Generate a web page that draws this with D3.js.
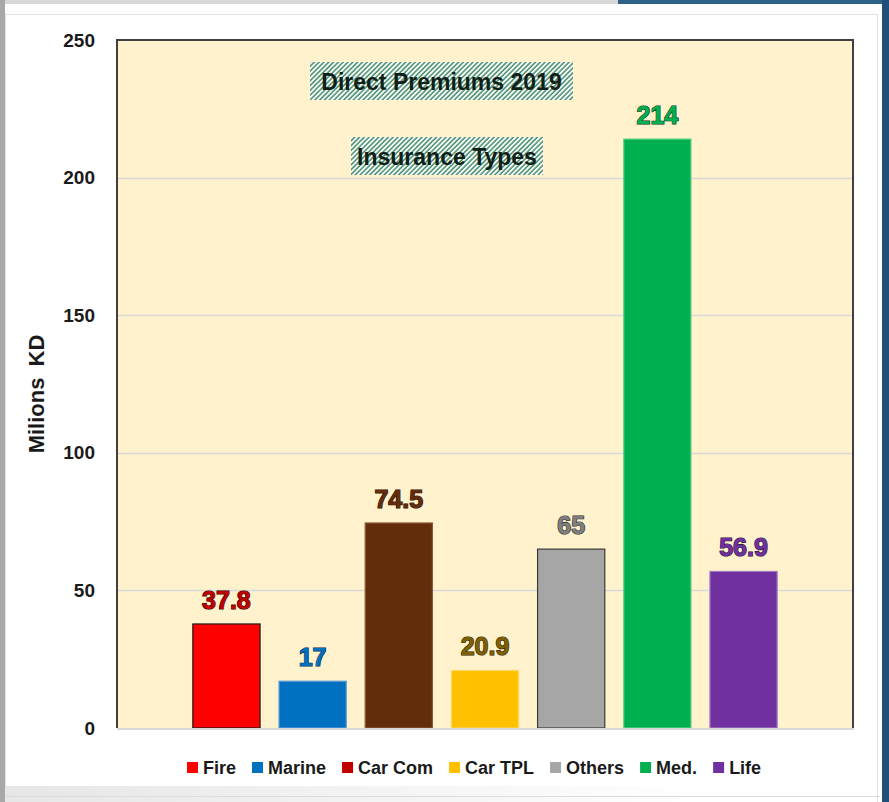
<!DOCTYPE html>
<html>
<head>
<meta charset="utf-8">
<script src="https://cdn.jsdelivr.net/npm/d3@7/dist/d3.min.js"></script>
<style>
    body { margin: 0; background: #fff; }
    svg text { font-family: "Liberation Sans", Arial, sans-serif; }
</style>
</head>
<body>
<div class="chart"></div>
<script>
// chart data
var categories = ["Fire", "Marine", "Car Com", "Car TPL", "Others", "Med.", "Life"];
var premiums = [37.8, 17, 74.5, 20.9, 65, 214, 56.9];
var valueLabels = ["37.8", "17", "74.5", "20.9", "65", "214", "56.9"];
var yTicks = [0, 50, 100, 150, 200, 250];
var titleLines = ["Direct Premiums 2019", "Insurance Types"];
var yTitle = "Milions KD";

var width = 889, height = 802;
var plot = { left: 117, right: 853, top: 40, bottom: 728 };

var barColors = ["#ff0000", "#0070c0", "#622d0b", "#ffc000", "#a6a6a6", "#00b050", "#7030a0"];
var barStrokes = ["#1a1a1a", "#5b9bd5", "#8a5a3a", "#ffd966", "#3a3a3a", "#5fd08a", "#a080c0"];
var legendColors = ["#ff0000", "#0070c0", "#c00000", "#ffc000", "#a6a6a6", "#00b050", "#7030a0"];
var labelFills = ["#c00000", "#0070c0", "#632c0a", "#7f6000", "#7f7f7f", "#00b050", "#7030a0"];
var labelStrokes = ["#2a0000", "#0b2a44", "#1a0a00", "#2a2000", "#2a2a2a", "#063018", "#1e0a30"];

var svg = d3.select("div.chart")
    .append("svg")
    .attr("width", width)
    .attr("height", height);

var defs = svg.append("defs");
var hatch = defs.append("pattern")
    .attr("id", "hatch")
    .attr("patternUnits", "userSpaceOnUse")
    .attr("width", 3.4)
    .attr("height", 3.4)
    .attr("patternTransform", "rotate(45)");
hatch.append("rect").attr("width", 3.4).attr("height", 3.4).attr("fill", "#ffffff");
hatch.append("line")
    .attr("x1", 1).attr("y1", 0).attr("x2", 1).attr("y2", 3.4)
    .attr("stroke", "#3f8a66").attr("stroke-width", 1.5);

var fade = defs.append("linearGradient").attr("id", "fade")
    .attr("x1", 0).attr("x2", 1).attr("y1", 0).attr("y2", 0);
fade.append("stop").attr("offset", "0%").attr("stop-color", "#e6e6e6");
fade.append("stop").attr("offset", "100%").attr("stop-color", "#ffffff");

// window frame around the chart
svg.append("rect").attr("x", 0).attr("y", 0).attr("width", width).attr("height", 4).attr("fill", "#d8d8d8");
svg.append("rect").attr("x", 618).attr("y", 0).attr("width", 271).attr("height", 4).attr("fill", "#2d6388");
svg.append("rect").attr("x", 0).attr("y", 0).attr("width", 5).attr("height", height).attr("fill", "#a8a8a8");
svg.append("rect").attr("x", 882).attr("y", 0).attr("width", 7).attr("height", height).attr("fill", "#1f4e79");
svg.append("rect").attr("x", 5.5).attr("y", 14.5).attr("width", 872).attr("height", 800)
    .attr("fill", "#ffffff").attr("stroke", "#e2e2e2");
svg.append("rect").attr("x", 5).attr("y", 786).attr("width", 700).attr("height", 16).attr("fill", "url(#fade)");
svg.append("line").attr("x1", 5).attr("x2", 880).attr("y1", 796.5).attr("y2", 796.5)
    .attr("stroke", "#dcdcdc");

var x = d3.scaleBand()
    .domain(categories)
    .range([plot.left, plot.right])
    .paddingInner(0.22)
    .paddingOuter(0.88);

var y = d3.scaleLinear()
    .domain([0, 250])
    .range([plot.bottom, plot.top]);

// plot background
svg.append("rect")
    .attr("x", plot.left).attr("y", plot.top)
    .attr("width", plot.right - plot.left).attr("height", plot.bottom - plot.top)
    .attr("fill", "#fff2cc");

// gridlines
svg.append("g").selectAll("line")
    .data(yTicks.filter(function (d) { return d > 0 && d < 250; }))
    .enter().append("line")
    .attr("x1", plot.left).attr("x2", plot.right)
    .attr("y1", function (d) { return Math.round(y(d)) + 0.5; })
    .attr("y2", function (d) { return Math.round(y(d)) + 0.5; })
    .attr("stroke", "#d9d9d9").attr("stroke-width", 1.3);

// y axis ticks
var yAxis = d3.axisLeft(y).tickValues(yTicks).tickSize(0).tickPadding(0);
var yg = svg.append("g")
    .attr("transform", "translate(95,0)")
    .call(yAxis);
yg.select(".domain").remove();
yg.selectAll("text")
    .attr("font-family", "Liberation Sans, Arial, sans-serif")
    .attr("font-size", 19)
    .attr("font-weight", "bold")
    .attr("fill", "#1a1a1a");

svg.append("text")
    .attr("transform", "translate(44," + ((plot.top + plot.bottom) / 2 + 10) + ") rotate(-90)")
    .attr("text-anchor", "middle")
    .attr("font-size", 22)
    .attr("font-weight", "bold")
    .attr("word-spacing", 5)
    .attr("fill", "#1a1a1a")
    .text(yTitle);

// bars
svg.append("g").selectAll("rect")
    .data(premiums)
    .enter().append("rect")
    .attr("x", function (d, i) { return x(categories[i]); })
    .attr("y", function (d) { return y(d); })
    .attr("width", x.bandwidth())
    .attr("height", function (d) { return y(0) - y(d); })
    .attr("fill", function (d, i) { return barColors[i]; })
    .attr("stroke", function (d, i) { return barStrokes[i]; })
    .attr("stroke-width", 1.2);

// value labels
svg.append("g").selectAll("text")
    .data(premiums)
    .enter().append("text")
    .attr("x", function (d, i) { return x(categories[i]) + x.bandwidth() / 2; })
    .attr("y", function (d) { return y(d) - 15; })
    .attr("text-anchor", "middle")
    .attr("font-size", 25)
    .attr("font-weight", "bold")
    .attr("fill", function (d, i) { return labelFills[i]; })
    .attr("stroke", function (d, i) { return labelStrokes[i]; })
    .attr("stroke-width", 1.2)
    .attr("paint-order", "stroke")
    .text(function (d, i) { return valueLabels[i]; });

// plot border: dark on left, top, right, light on the bottom
svg.append("path")
    .attr("d", "M" + plot.left + "," + plot.bottom + "V" + plot.top + "H" + plot.right + "V" + plot.bottom)
    .attr("fill", "none").attr("stroke", "#404040").attr("stroke-width", 2);
svg.append("line")
    .attr("x1", plot.left).attr("x2", plot.right + 1)
    .attr("y1", plot.bottom + 1).attr("y2", plot.bottom + 1)
    .attr("stroke", "#d9d9d9").attr("stroke-width", 2);

// hatched title boxes
var titleBoxes = [
    { x: 310, y: 62, w: 263, h: 38 },
    { x: 351, y: 137, w: 192, h: 38 }
];
titleBoxes.forEach(function (b, i) {
    svg.append("rect")
        .attr("x", b.x).attr("y", b.y).attr("width", b.w).attr("height", b.h)
        .attr("fill", "url(#hatch)");
    svg.append("text")
        .attr("x", b.x + b.w / 2)
        .attr("y", b.y + 28)
        .attr("text-anchor", "middle")
        .attr("font-size", 23)
        .attr("font-weight", "bold")
        .attr("fill", "#102018")
        .text(titleLines[i]);
});

// legend
var legend = svg.append("g");
var lx = 187;
categories.forEach(function (c, i) {
    legend.append("rect")
        .attr("x", lx).attr("y", 762).attr("width", 11).attr("height", 11)
        .attr("fill", legendColors[i]);
    var t = legend.append("text")
        .attr("x", lx + 16).attr("y", 774)
        .attr("font-size", 18)
        .attr("font-weight", "bold")
        .attr("fill", "#1a1a1a")
        .text(c);
    lx = lx + 16 + t.node().getComputedTextLength() + 16;
});
</script>
</body>
</html>
